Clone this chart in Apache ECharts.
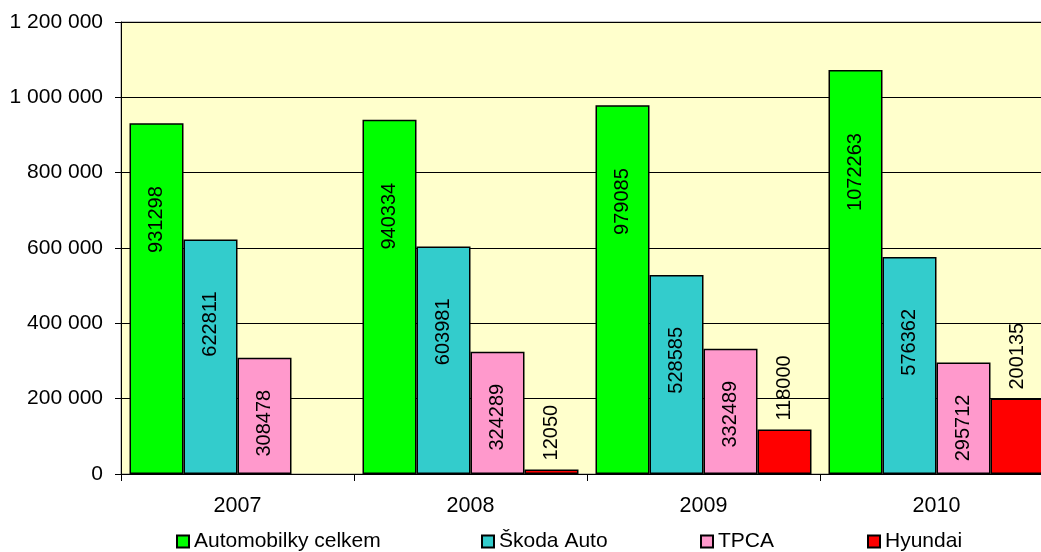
<!DOCTYPE html>
<html>
<head>
<meta charset="utf-8">
<script src="https://cdn.jsdelivr.net/npm/echarts@6/dist/echarts.min.js"></script>
<style>
  html, body { margin: 0; padding: 0; background: #fff; overflow: hidden; }
  #chart { width: 1060px; height: 552px; }
</style>
</head>
<body>
<div id="chart"></div>
<script>
var years = ['2007', '2008', '2009', '2010'];
var celkem = [931298, 940334, 979085, 1072263];
var skoda = [622811, 603981, 528585, 576362];
var tpca = [308478, 324289, 332489, 295712];
var hyundai = [null, 12050, 118000, 200135];
var seriesNames = ['Automobilky celkem', 'Škoda Auto', 'TPCA', 'Hyundai'];

var font = 'Liberation Sans, Arial, sans-serif';

function fmt(v) {
    return String(v).replace(/\B(?=(\d{3})+(?!\d))/g, ' ');
}

// labels inside, rotated, hanging from the bar top
function insideLabel(dist) {
    return {
        show: true,
        position: 'insideTop',
        distance: dist,
        rotate: 90,
        align: 'right',
        verticalAlign: 'middle',
        color: '#000',
        fontFamily: font,
        fontSize: 20
    };
}

function bar(name, data, color, label) {
    return {
        name: name,
        type: 'bar',
        data: data,
        barGap: 0,
        barCategoryGap: '7.3%',
        itemStyle: { color: color, borderColor: '#000', borderWidth: 1.5 },
        label: label,
        emphasis: { disabled: true }
    };
}

function legendAt(x, name) {
    return {
        left: x,
        top: 531,
        padding: 0,
        icon: 'rect',
        itemWidth: 12,
        itemHeight: 12,
        data: [name],
        textStyle: { color: '#000', fontFamily: font, fontSize: 21 }
    };
}

var chart = echarts.init(document.getElementById('chart'));
chart.setOption({
    animation: false,
    backgroundColor: '#fff',
    legend: [
        legendAt(176, seriesNames[0]),
        legendAt(481, seriesNames[1]),
        legendAt(700, seriesNames[2]),
        legendAt(867, seriesNames[3])
    ],
    grid: {
        left: 121,
        top: 22,
        width: 932,
        height: 452,
        show: true,
        backgroundColor: '#ffffcc',
        borderColor: '#888',
        borderWidth: 1
    },
    xAxis: {
        type: 'category',
        data: years,
        axisLine: { lineStyle: { color: '#000', width: 1 } },
        axisTick: { show: true, length: 7, lineStyle: { color: '#000' } },
        axisLabel: { color: '#000', fontFamily: font, fontSize: 21.5, margin: 21 }
    },
    yAxis: {
        type: 'value',
        min: 0,
        max: 1200000,
        interval: 200000,
        axisLine: { show: true, lineStyle: { color: '#000', width: 1 } },
        axisTick: { show: true, length: 6, lineStyle: { color: '#000' } },
        splitLine: { lineStyle: { color: '#000', width: 1 } },
        axisLabel: {
            color: '#000', fontFamily: font, fontSize: 21, margin: 18,
            formatter: fmt
        }
    },
    series: [
        bar(seriesNames[0], celkem, '#00ff00', insideLabel(63)),
        bar(seriesNames[1], skoda, '#33cccc', insideLabel(52)),
        bar(seriesNames[2], tpca, '#ff99cc', insideLabel(32)),
        bar(seriesNames[3], hyundai, '#ff0000', {
            show: true,
            position: 'top',
            distance: 9,
            rotate: 90,
            align: 'left',
            verticalAlign: 'middle',
            color: '#000',
            fontFamily: font,
            fontSize: 20
        })
    ]
});
</script>
</body>
</html>
